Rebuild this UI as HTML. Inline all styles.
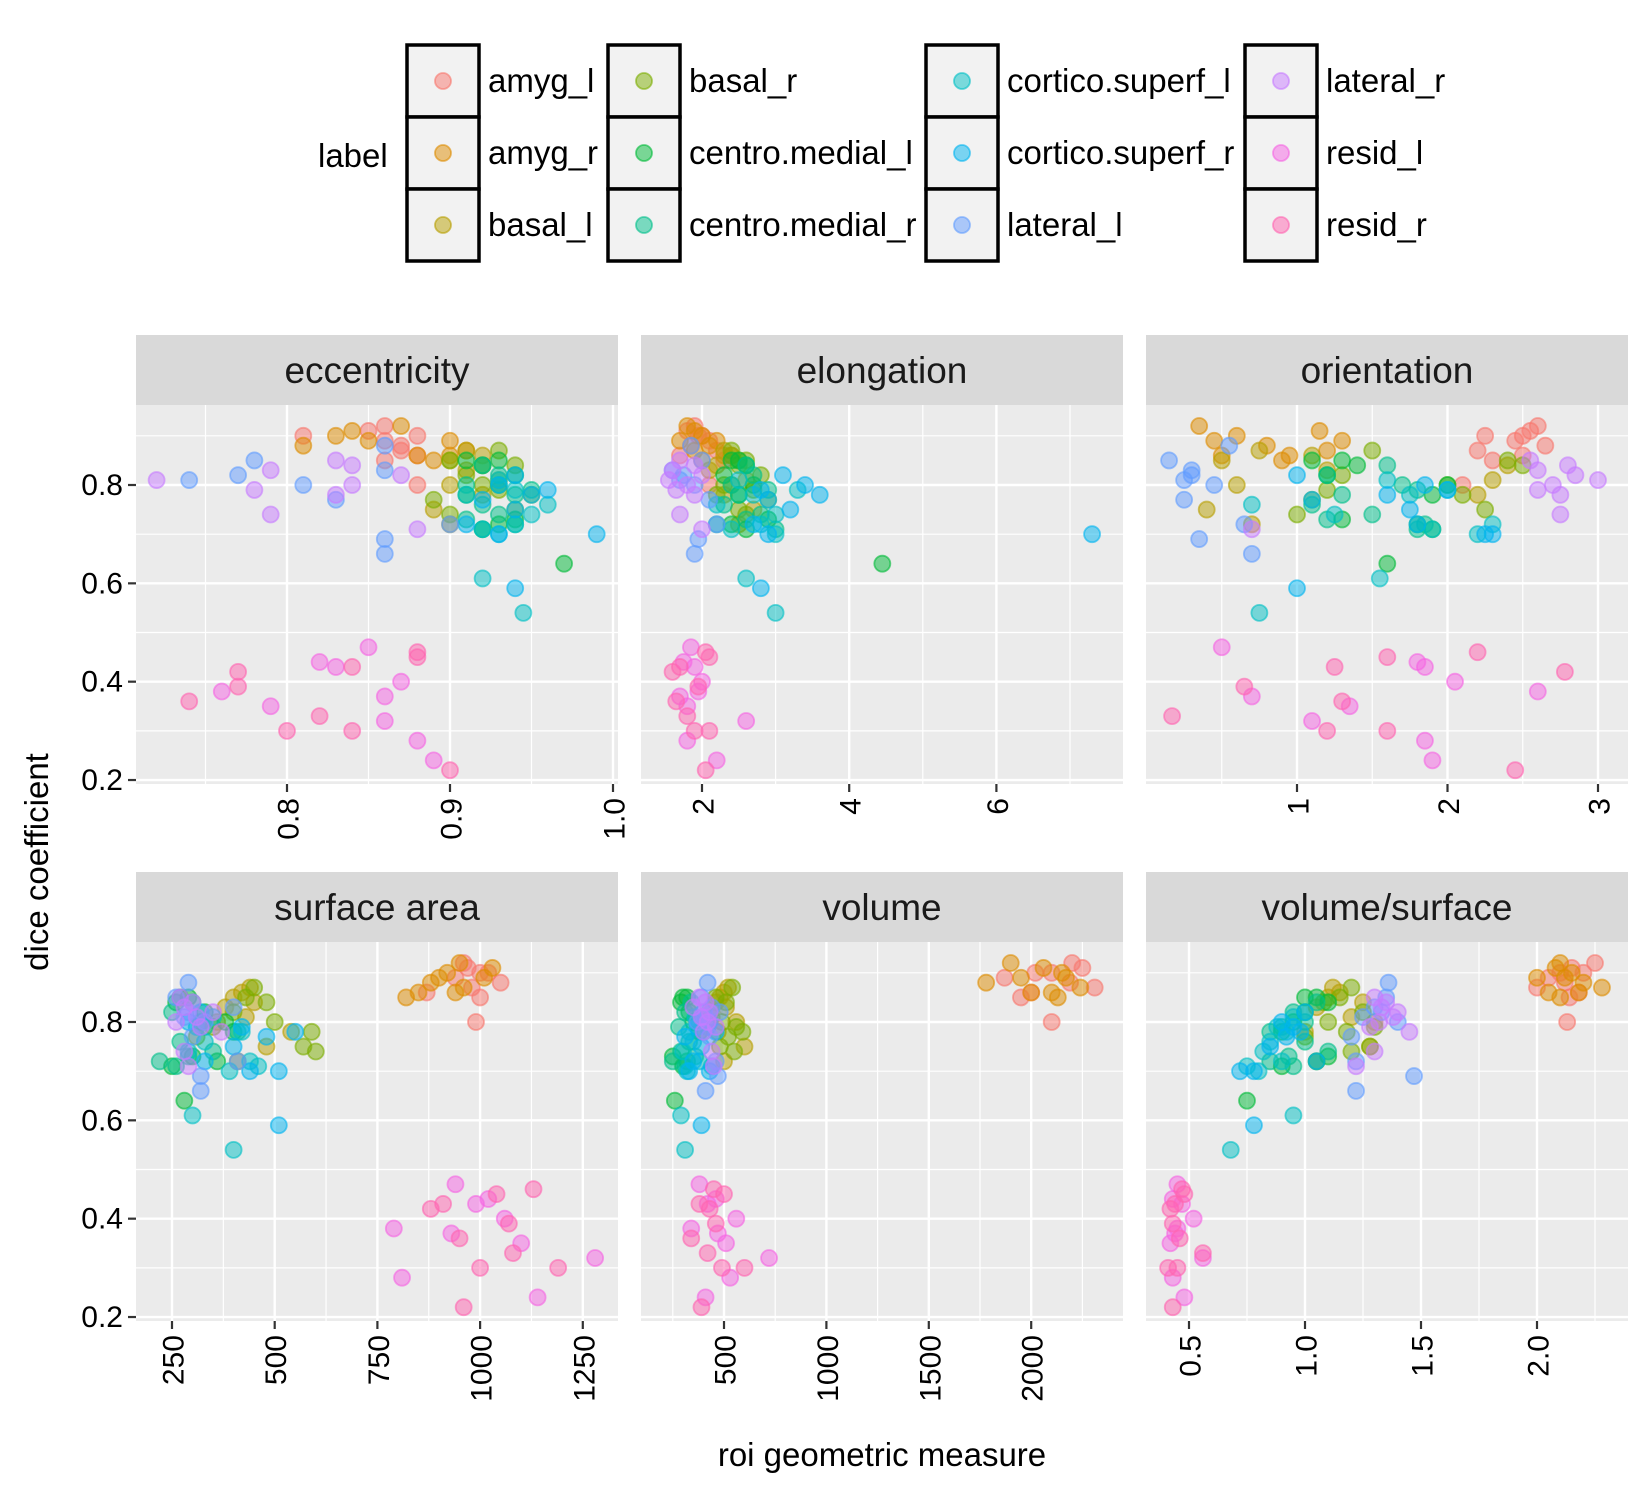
<!DOCTYPE html>
<html><head><meta charset="utf-8"><style>
html,body{margin:0;padding:0;background:#fff}
svg{display:block;font-family:"Liberation Sans",sans-serif}
</style></head><body>
<svg id="chart" width="1650" height="1500" viewBox="0 0 1650 1500" xmlns="http://www.w3.org/2000/svg">
<g id="legend"></g>
<g id="panels"></g>
<text x="0" y="0" transform="translate(48,862) rotate(-90)" text-anchor="middle" font-size="33" fill="#000">dice coefficient</text>
<text x="882" y="1466" text-anchor="middle" font-size="33" fill="#000">roi geometric measure</text>
</svg>
<script>
const labels = ["amyg_l","amyg_r","basal_l","basal_r","centro.medial_l","centro.medial_r","cortico.superf_l","cortico.superf_r","lateral_l","lateral_r","resid_l","resid_r"];
const colors = ["#F8766D","#DE8C00","#B79F00","#7CAE00","#00BA38","#00C08B","#00BFC4","#00B4F0","#619CFF","#C77CFF","#F564E3","#FF64B0"];
const dice = [
[.92,.91,.90,.90,.89,.88,.87,.86,.85,.80],
[.92,.91,.90,.89,.89,.88,.87,.86,.86,.85],
[.87,.86,.85,.84,.83,.81,.80,.78,.75,.72],
[.87,.85,.84,.82,.80,.79,.78,.77,.75,.74],
[.85,.85,.84,.82,.80,.78,.73,.72,.71,.64],
[.84,.82,.80,.79,.78,.76,.74,.73,.72,.71],
[.81,.79,.78,.76,.74,.72,.71,.70,.61,.54],
[.82,.80,.79,.78,.77,.75,.72,.70,.59,.70],
[.88,.85,.83,.82,.81,.80,.77,.72,.69,.66],
[.85,.84,.83,.82,.81,.80,.79,.78,.74,.71],
[.47,.44,.43,.40,.38,.37,.35,.32,.28,.24],
[.46,.45,.43,.42,.39,.36,.33,.30,.30,.22]];
const eccentricity = [
[.86,.85,.81,.88,.86,.87,.87,.88,.86,.88],
[.87,.84,.83,.85,.90,.81,.91,.88,.90,.89],
[.91,.92,.90,.92,.91,.93,.90,.92,.89,.90],
[.93,.90,.94,.91,.92,.93,.95,.89,.94,.90],
[.91,.93,.92,.94,.93,.91,.94,.93,.92,.97],
[.92,.93,.91,.95,.94,.92,.93,.91,.94,.92],
[.93,.94,.91,.96,.95,.94,.92,.93,.92,.945],
[.94,.93,.96,.95,.92,.94,.91,.99,.94,.93],
[.86,.78,.86,.77,.74,.81,.83,.90,.86,.86],
[.83,.84,.79,.87,.72,.84,.78,.83,.79,.88],
[.85,.82,.83,.87,.76,.86,.79,.86,.88,.89],
[.88,.88,.84,.77,.77,.74,.82,.84,.80,.90]];
const elongation = [
[1.9,1.8,1.95,2.0,2.1,1.85,2.2,1.7,2.3,2.1],
[1.8,1.9,2.0,2.2,1.7,2.1,1.9,2.3,2.4,2.0],
[2.3,2.4,2.5,2.2,2.1,2.6,2.4,2.3,2.7,2.5],
[2.4,2.6,2.5,2.8,2.3,2.7,2.2,2.9,2.5,2.6],
[2.5,2.4,2.6,2.3,2.7,2.5,2.9,2.4,2.6,4.45],
[2.6,2.7,2.4,2.9,2.5,2.3,2.8,2.6,2.2,3.0],
[2.5,3.3,2.7,2.2,3.0,2.8,2.4,3.0,2.6,3.0],
[3.1,3.4,2.8,3.6,2.9,3.2,2.7,2.9,2.8,7.3],
[1.85,2.0,1.6,1.75,1.7,1.9,2.1,2.2,1.95,1.9],
[1.7,1.9,1.6,2.0,1.55,1.8,1.65,1.9,1.7,2.0],
[1.85,1.75,1.9,2.0,1.95,1.7,1.8,2.6,1.8,2.2],
[2.05,2.1,1.7,1.6,1.95,1.65,1.8,2.1,1.9,2.05]];
const orientation = [
[2.6,2.55,2.25,2.5,2.45,2.65,2.2,2.5,2.3,2.1],
[.35,1.15,.6,.45,1.3,.8,1.2,.5,.95,.9],
[.75,1.1,.5,2.4,1.2,2.3,.6,2.2,.4,.7],
[1.5,2.4,2.5,1.3,2.0,1.2,2.1,1.1,2.25,1.0],
[1.1,1.3,1.4,1.2,2.0,1.9,1.3,1.8,1.9,1.6],
[1.6,1.2,1.7,1.8,1.3,1.1,1.5,1.2,1.85,1.8],
[1.6,2.0,1.75,.7,1.25,2.3,1.9,2.2,1.55,.75],
[1.0,1.85,2.0,1.6,1.1,1.75,1.8,2.25,1.0,2.3],
[.55,.15,.3,.3,.25,.45,.25,.65,.35,.7],
[2.55,2.8,2.6,2.85,3.0,2.7,2.6,2.75,2.75,.7],
[.5,1.8,1.85,2.05,2.6,.7,1.35,1.1,1.85,1.9],
[2.2,1.6,1.25,2.78,.65,1.3,.17,1.2,1.6,2.45]];
const surfaceArea = [
[960,970,1000,1020,940,1050,980,870,1000,990],
[950,1030,920,1010,900,880,960,850,940,820],
[440,420,400,450,380,430,360,540,480,410],
[450,430,480,400,500,350,590,310,570,600],
[270,290,260,330,380,400,300,360,250,280],
[300,250,320,330,410,270,350,290,220,260],
[350,310,420,330,290,440,460,390,300,400],
[320,290,420,550,480,400,330,510,510,440],
[290,260,400,290,280,330,300,410,320,320],
[270,300,280,350,310,260,320,370,280,290],
[940,1020,990,1060,790,930,1100,1280,810,1140],
[1130,1040,910,880,1070,950,1080,1000,1190,960]];
const volume = [
[2200,2250,2020,2100,1870,2190,2310,2000,1950,2100],
[1900,2060,2150,1950,2170,1780,2240,2000,2100,2130],
[520,500,480,460,510,440,560,470,600,500],
[540,460,510,430,490,560,590,520,480,550],
[300,320,290,330,350,380,250,320,300,260],
[340,310,370,280,400,330,290,360,250,310],
[360,420,330,350,300,380,440,320,290,310],
[400,430,370,460,310,390,350,330,390,430],
[420,390,440,480,400,370,430,460,470,410],
[380,410,350,430,390,420,460,400,440,450],
[380,460,420,560,340,470,510,720,530,410],
[450,500,380,430,460,340,420,490,600,390]];
const volumeSurface = [
[2.25,2.15,2.1,2.2,2.05,2.12,2.0,2.18,2.14,2.13],
[2.1,2.08,2.15,2.0,2.12,2.2,2.28,2.05,2.18,2.1],
[1.12,1.15,1.1,1.25,1.05,1.2,1.3,1.0,1.28,1.05],
[1.2,1.15,1.08,1.25,1.1,1.3,1.18,1.0,1.28,1.2],
[1.05,1.0,1.1,1.0,0.95,0.9,1.1,1.05,0.9,0.75],
[1.05,0.95,1.0,0.9,0.85,1.0,1.1,0.93,0.85,0.95],
[0.95,0.88,0.92,0.85,0.82,0.9,0.75,0.8,0.95,0.68],
[1.0,0.9,0.95,0.98,0.92,0.85,1.05,0.78,0.78,0.72],
[1.36,1.35,1.3,1.33,1.25,1.4,1.2,1.22,1.47,1.22],
[1.3,1.35,1.33,1.4,1.38,1.32,1.28,1.45,1.3,1.22],
[0.45,0.43,0.47,0.52,0.45,0.44,0.42,0.56,0.43,0.48],
[0.47,0.48,0.44,0.42,0.43,0.46,0.56,0.45,0.41,0.43]];
const yTicks = [0.2,0.4,0.6,0.8];
const yMinor = [0.3,0.5,0.7,0.9];

const NS = "http://www.w3.org/2000/svg";
function mk(tag, attrs, parent){const e=document.createElementNS(NS,tag);for(const k in attrs)e.setAttribute(k,attrs[k]);parent.appendChild(e);return e;}

const panelDefs = [
 {title:"eccentricity", data:eccentricity, col:0,row:0, x0:287,v0:0.8,k:1630, ticks:[0.8,0.9,1.0], tl:["0.8","0.9","1.0"], minor:[0.75,0.85,0.95]},
 {title:"elongation", data:elongation, col:1,row:0, x0:702,v0:2,k:73.6, ticks:[2,4,6], tl:["2","4","6"], minor:[3,5,7]},
 {title:"orientation", data:orientation, col:2,row:0, x0:1297,v0:1,k:150.5, ticks:[1,2,3], tl:["1","2","3"], minor:[0.5,1.5,2.5]},
 {title:"surface area", data:surfaceArea, col:0,row:1, x0:172,v0:250,k:0.4108, ticks:[250,500,750,1000,1250], tl:["250","500","750","1000","1250"], minor:[375,625,875,1125]},
 {title:"volume", data:volume, col:1,row:1, x0:724,v0:500,k:0.2048, ticks:[500,1000,1500,2000], tl:["500","1000","1500","2000"], minor:[250,750,1250,1750,2250]},
 {title:"volume/surface", data:volumeSurface, col:2,row:1, x0:1189,v0:0.5,k:232, ticks:[0.5,1.0,1.5,2.0], tl:["0.5","1.0","1.5","2.0"], minor:[0.75,1.25,1.75,2.25]}
];
const colLeft=[136,641,1146], PW=482;
const rowTop=[405,942], PH=379, SH=70;

const panelsG=document.getElementById('panels');
panelDefs.forEach(function(p){
  const L=colLeft[p.col], T=rowTop[p.row], R=L+PW, B=T+PH;
  const g=mk('g',{},panelsG);
  
  
  const xs=v=>p.x0+(v-p.v0)*p.k;
  const ys=v=>T+80-(v-0.8)*491.7;
  const strip=mk('rect',{x:L,y:T-SH,width:PW,height:SH,fill:'#D9D9D9'},g);
  
  
  const st=mk('text',{x:L+PW/2,y:T-SH/2+13,'text-anchor':'middle','font-size':37,fill:'#1A1A1A'},g);
  st.textContent=p.title;
  
  
  const bg=mk('rect',{x:L,y:T,width:PW,height:PH,fill:'#EBEBEB'},g);
  
  
  yMinor.forEach(v=>{const y=ys(v);if(y>T&&y<B)mk('line',{x1:L,x2:R,y1:y,y2:y,stroke:'#fff','stroke-width':1.2},g);});
  p.minor.forEach(v=>{const x=xs(v);if(x>L&&x<R)mk('line',{x1:x,x2:x,y1:T,y2:B,stroke:'#fff','stroke-width':1.2},g);});
  yTicks.forEach(v=>{const y=ys(v);mk('line',{x1:L,x2:R,y1:y,y2:y,stroke:'#fff','stroke-width':2.4},g);});
  p.ticks.forEach(v=>{const x=xs(v);if(x>=L-1&&x<=R+1)mk('line',{x1:x,x2:x,y1:T,y2:B,stroke:'#fff','stroke-width':2.4},g);});
  p.data.forEach(function(arr,li){
    arr.forEach(function(v,i){
      const c=mk('circle',{cx:xs(v),cy:ys(dice[li][i]),r:8,fill:colors[li],'fill-opacity':0.5,stroke:colors[li],'stroke-opacity':0.6,'stroke-width':1.8},g);
      
      
    });
  });
  p.ticks.forEach(function(v,i){
    const x=xs(v);
    mk('line',{x1:x,x2:x,y1:B,y2:B+8,stroke:'#333','stroke-width':2.2},g);
    const t=mk('text',{x:0,y:0,transform:'translate('+(x+2)+','+(B+14)+') rotate(-90)','text-anchor':'end','dominant-baseline':'central','font-size':30,fill:'#000'},g);
    t.textContent=p.tl[i];
    
    
  });
  if(p.col===0){
    yTicks.forEach(function(v){
      const y=ys(v);
      mk('line',{x1:L-8,x2:L,y1:y,y2:y,stroke:'#333','stroke-width':2.2},g);
      const t=mk('text',{x:L-13,y:y+10,'text-anchor':'end','font-size':30,fill:'#000'},g);
      t.textContent=v.toFixed(1);
      
      
    });
  }
});

const lg=document.getElementById('legend');
const lt=mk('text',{x:318,y:167,'font-size':33,fill:'#000'},lg);
lt.textContent='label';


const keyX=[407,608,926,1245], keyY=[45,117,189], KS=72;
labels.forEach(function(lab,i){
  const c=Math.floor(i/3), r=i%3;
  const x=keyX[c], y=keyY[r];
  const ge=mk('g',{},lg);
  
  
  mk('rect',{x:x,y:y,width:KS,height:KS,fill:'#F2F2F2',stroke:'#000','stroke-width':3.5},ge);
  mk('circle',{cx:x+KS/2,cy:y+KS/2,r:8,fill:colors[i],'fill-opacity':0.5,stroke:colors[i],'stroke-opacity':0.6,'stroke-width':1.8},ge);
  const t=mk('text',{x:x+81,y:y+KS/2+11,'font-size':33,fill:'#000'},ge);
  t.textContent=lab;
});
</script>
</body></html>
